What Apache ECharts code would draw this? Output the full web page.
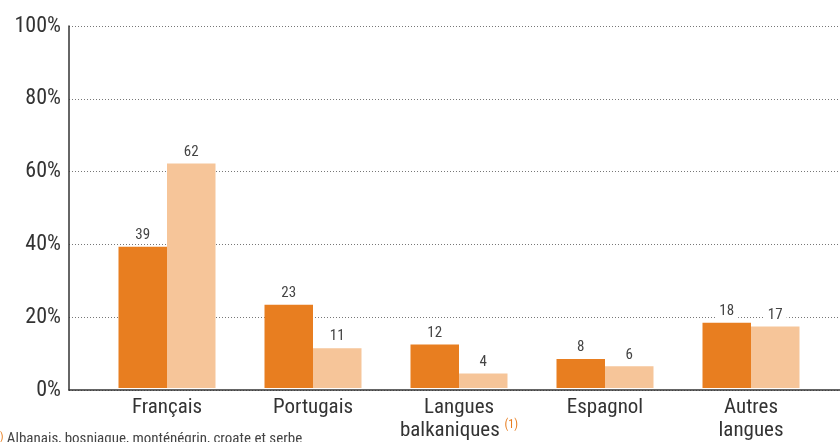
<!DOCTYPE html>
<html><head><meta charset="utf-8">
<script src="https://cdn.jsdelivr.net/npm/echarts@6/dist/echarts.min.js"></script>
<style>html,body{margin:0;padding:0;background:#fff}#c{width:840px;height:442px}</style>
</head><body><div id="c"></div>
<script>
const categories = ['Français', 'Portugais', 'Langues\nbalkaniques', 'Espagnol', 'Autres\nlangues'];
const seriesA = [39, 23, 12, 8, 18];
const seriesB = [62, 11, 4, 6, 17];
const yTicks = [0, 20, 40, 60, 80, 100];
const footnote = 'Albanais, bosniaque, monténégrin, croate et serbe';

const FONT = "'Liberation Sans Narrow', 'Roboto Condensed', 'Liberation Sans', sans-serif";
const chart = echarts.init(document.getElementById('c'));
const lbl = {
  show: true, position: 'top', distance: 4, color: '#444', fontSize: 15, fontFamily: FONT,
  backgroundColor: '#fff', padding: [0, 4]
};
chart.setOption({
  animation: false,
  grid: [
    {left: 69, right: 0, top: 26, bottom: 52},
    {left: 94, width: 730, top: 26, bottom: 52}
  ],
  xAxis: [
    {gridIndex: 0, type: 'category', data: categories, axisLine: {lineStyle: {color: '#333', width: 1.5}},
     axisTick: {show: false}, axisLabel: {show: false}},
    {gridIndex: 1, type: 'category', data: categories, axisLine: {show: false}, axisTick: {show: false},
     axisLabel: {
       interval: 0, hideOverlap: false,
       color: '#333', fontSize: 21, fontFamily: FONT, lineHeight: 23, margin: 8,
       formatter: function (v) {
         if (v.indexOf('balkaniques') >= 0) return 'Langues\n{t|balkaniques} {s|(1)}';
         return v;
       },
       rich: {
         t: {fontSize: 21, fontFamily: FONT, color: '#333', lineHeight: 23},
         s: {fontSize: 12, fontFamily: FONT, color: '#E87E20', verticalAlign: 'top', padding: [0, 0, 8, 0]}
       }
     }}
  ],
  yAxis: [
    {gridIndex: 0, type: 'value', min: 0, max: 100, interval: 20,
     axisLine: {show: true, lineStyle: {color: '#333', width: 1.5}}, axisTick: {show: false},
     axisLabel: {formatter: v => yTicks.includes(v) ? v + '%' : '', color: '#333', fontSize: 22, fontFamily: FONT, margin: 8},
     splitLine: {show: true, lineStyle: {color: '#777', type: [1, 2], width: 1}}},
    {gridIndex: 1, type: 'value', min: 0, max: 100, interval: 20, show: false, splitLine: {show: false}}
  ],
  series: [
    {type: 'bar', xAxisIndex: 1, yAxisIndex: 1, data: seriesA, barWidth: 48.5, barGap: '0%',
     itemStyle: {color: '#E87E20'}, label: lbl},
    {type: 'bar', xAxisIndex: 1, yAxisIndex: 1, data: seriesB, barWidth: 48.5, barGap: '0%',
     itemStyle: {color: '#F6C599'}, label: lbl}
  ],
  graphic: [
    {type: 'text', left: -9, top: 432, style: {
      text: '{s|(1)} ' + footnote,
      rich: {s: {fontSize: 11, fontFamily: FONT, fill: '#E87E20', verticalAlign: 'top'}},
      fontSize: 15, fontFamily: FONT, fill: '#444'}}
  ]
});
</script></body></html>
